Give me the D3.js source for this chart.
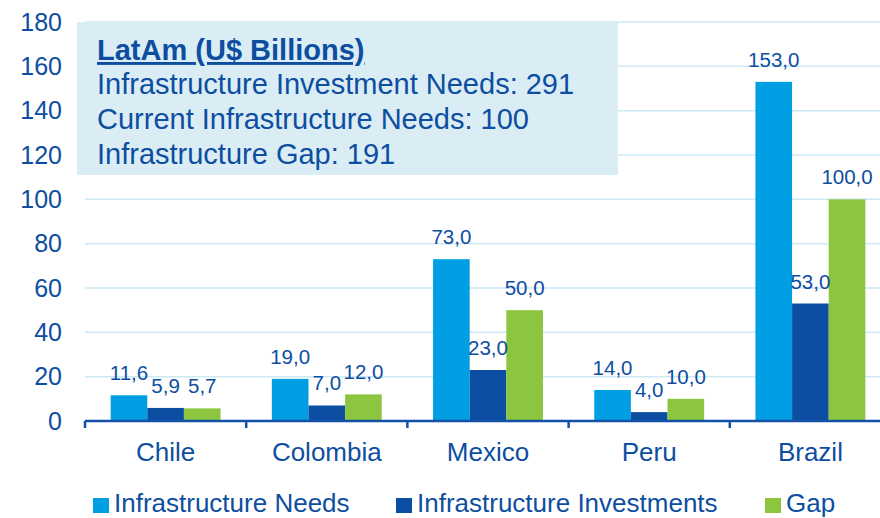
<!DOCTYPE html>
<html>
<head>
<meta charset="utf-8">
<script src="https://cdn.jsdelivr.net/npm/d3@7/dist/d3.min.js"></script>
<style>
  html, body { margin: 0; padding: 0; background: #ffffff; }
  svg { display: block; }
  text { font-family: Arial, "Liberation Sans", Helvetica, sans-serif; }
</style>
</head>
<body>
<svg id="chart" width="880" height="518"></svg>
<script>
// Countries along the x axis
const categories = ["Chile", "Colombia", "Mexico", "Peru", "Brazil"];

// Series names (legend order)
const seriesNames = ["Infrastructure Needs", "Infrastructure Investments", "Gap"];

// Values in U$ billions, one array per series
const needs       = [11.6, 19.0, 73.0, 14.0, 153.0];
const investments = [5.9, 7.0, 23.0, 4.0, 53.0];
const gap         = [5.7, 12.0, 50.0, 10.0, 100.0];

// Y axis ticks
const yTicks = [0, 20, 40, 60, 80, 100, 120, 140, 160, 180];

// Summary box lines
const boxTitle = "LatAm (U$ Billions)";
const boxLines = [
  "Infrastructure Investment Needs: 291",
  "Current Infrastructure Needs: 100",
  "Infrastructure Gap: 191"
];

const colors = ["#009fe3", "#0b4ea2", "#8cc63f"];
const textColor = "#0d4ea1";
const seriesValues = [needs, investments, gap];

const svg = d3.select("#chart");

const x0 = d3.scaleBand().domain(categories).range([85, 891]).padding(0);
const x1 = d3.scaleBand().domain(seriesNames).range([0, x0.bandwidth()])
  .paddingInner(0).paddingOuter(0.7);
const y = d3.scaleLinear().domain([0, 180]).range([421, 22]);

const fmt = v => d3.format(".1f")(v).replace(".", ",");

// Horizontal gridlines
svg.append("g")
  .selectAll("line")
  .data(yTicks.filter(d => d > 0))
  .join("line")
  .attr("x1", 85).attr("x2", 880)
  .attr("y1", d => y(d)).attr("y2", d => y(d))
  .attr("stroke", "#cde9f6").attr("stroke-width", 1.5);

// Y tick labels
svg.append("g")
  .selectAll("text")
  .data(yTicks)
  .join("text")
  .attr("x", 62).attr("y", d => y(d))
  .attr("dy", "0.35em")
  .attr("text-anchor", "end")
  .attr("font-size", 25)
  .attr("fill", textColor)
  .text(d => d);

// Bars
const groups = svg.append("g")
  .selectAll("g")
  .data(categories)
  .join("g")
  .attr("transform", d => `translate(${x0(d)},0)`);

groups.selectAll("rect")
  .data((c, i) => seriesNames.map((s, k) => ({ s, v: seriesValues[k][i], k })))
  .join("rect")
  .attr("x", d => x1(d.s))
  .attr("width", x1.bandwidth())
  .attr("y", d => y(d.v))
  .attr("height", d => y(0) - y(d.v))
  .attr("fill", d => colors[d.k]);

// Value labels
groups.selectAll("text")
  .data((c, i) => seriesNames.map((s, k) => ({ s, v: seriesValues[k][i], k })))
  .join("text")
  .attr("x", d => x1(d.s) + x1.bandwidth() / 2)
  .attr("y", d => y(d.v) - 15)
  .attr("text-anchor", "middle")
  .attr("font-size", 20.5)
  .attr("fill", textColor)
  .text(d => fmt(d.v));

// X axis line with category boundary ticks
const axis = svg.append("g");
axis.append("line")
  .attr("x1", 85).attr("x2", 880)
  .attr("y1", y(0)).attr("y2", y(0))
  .attr("stroke", "#1352a6").attr("stroke-width", 2.5);
const bounds = categories.map(c => x0(c)).concat([x0.range()[1]]);
axis.selectAll("line.tick")
  .data(bounds)
  .join("line")
  .attr("class", "tick")
  .attr("x1", d => d).attr("x2", d => d)
  .attr("y1", y(0)).attr("y2", y(0) + 7)
  .attr("stroke", "#1352a6").attr("stroke-width", 2.5);

// Category labels
axis.selectAll("text")
  .data(categories)
  .join("text")
  .attr("x", d => x0(d) + x0.bandwidth() / 2)
  .attr("y", 461)
  .attr("text-anchor", "middle")
  .attr("font-size", 26)
  .attr("fill", textColor)
  .text(d => d);

// Summary box
const box = svg.append("g");
box.append("rect")
  .attr("x", 77).attr("y", 22)
  .attr("width", 541).attr("height", 153)
  .attr("fill", "#daedf4");
box.append("text")
  .attr("x", 97).attr("y", 60)
  .attr("font-size", 29)
  .attr("font-weight", "bold")
  .attr("text-decoration", "underline")
  .attr("fill", textColor)
  .text(boxTitle);
box.selectAll("text.line")
  .data(boxLines)
  .join("text")
  .attr("class", "line")
  .attr("x", 97)
  .attr("y", (d, i) => 94 + i * 35)
  .attr("font-size", 29)
  .attr("fill", textColor)
  .text(d => d);

// Legend
const legendX = [93, 396, 765];
const legend = svg.append("g")
  .selectAll("g")
  .data(seriesNames)
  .join("g")
  .attr("transform", (d, i) => `translate(${legendX[i]},498)`);
legend.append("rect")
  .attr("width", 16).attr("height", 15)
  .attr("fill", (d, i) => colors[i]);
legend.append("text")
  .attr("x", 21).attr("y", 14)
  .attr("font-size", 26)
  .attr("fill", textColor)
  .text(d => d);
</script>
</body>
</html>
